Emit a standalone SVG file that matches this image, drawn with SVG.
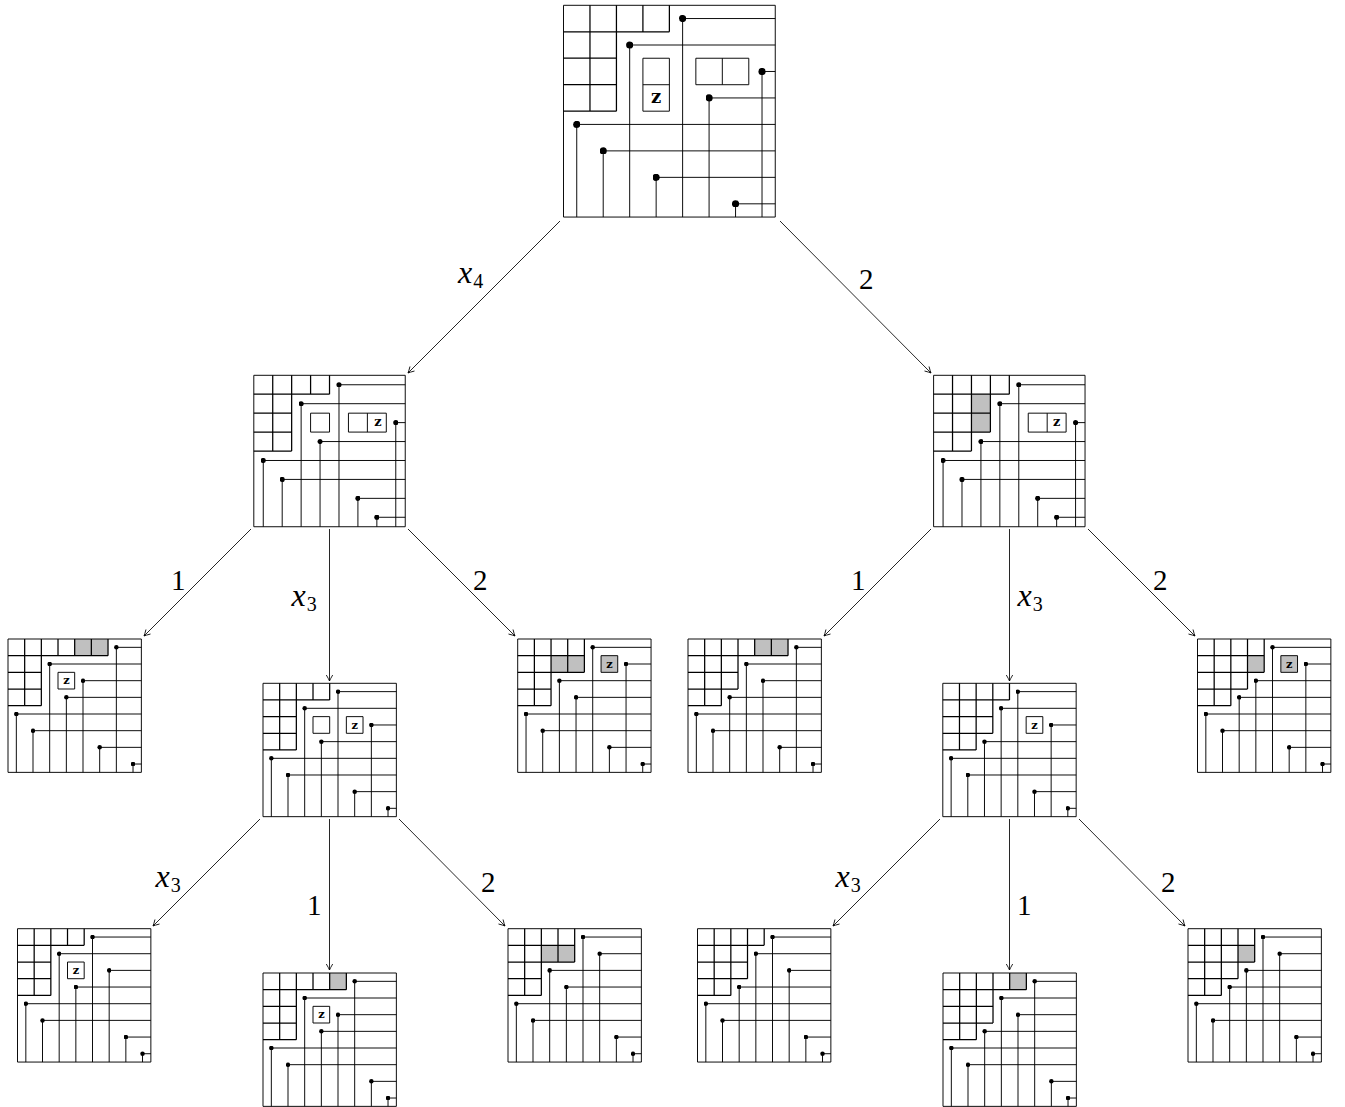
<svg xmlns="http://www.w3.org/2000/svg" xmlns:xlink="http://www.w3.org/1999/xlink" width="1345" height="1107" viewBox="0 0 1345 1107">
<style>
.n rect,.n path{fill:none;stroke:#000;stroke-width:.95;vector-effect:non-scaling-stroke}
defs path{fill:none;stroke:#000;stroke-width:1.25;vector-effect:non-scaling-stroke}
.n rect.g{fill:#c0c0c0;stroke:none}
.n rect.gb{fill:#c0c0c0}
.n path.h{marker-mid:url(#dot)}
.n text{font-family:"DejaVu Serif",serif;font-weight:700;font-size:.68px;text-anchor:middle}
#connectors path{fill:none;stroke:#000;stroke-width:.85;marker-end:url(#arr)}
.l{font-family:"Liberation Serif",serif;font-size:29px;fill:#000}
.i{font-style:italic;font-size:32px}
.s{font-style:normal;font-size:20px}
</style>
<defs>
<marker id="dot" markerUnits="userSpaceOnUse" markerWidth=".27" markerHeight=".27" viewBox="-1 -1 2 2"><circle r="1" fill="#000"/></marker>
<marker id="arr" markerUnits="userSpaceOnUse" markerWidth="10" markerHeight="10" refX="0" refY="0" viewBox="-8 -5 10 10" orient="auto"><path d="M-6 -3.2Q-2 -.8 0 0Q-2 .8 -6 3.2" style="fill:none;stroke:#000;stroke-width:.85"/></marker>
<path id="g4222" d="M0 1H4M0 2H2M0 3H2M0 4H2M1 0V4M2 0V4M3 0V1M4 0V1"/>
<path id="g5222" d="M0 1H5M0 2H2M0 3H2M0 4H2M1 0V4M2 0V4M3 0V1M4 0V1M5 0V1"/>
<path id="g6222" d="M0 1H6M0 2H2M0 3H2M0 4H2M1 0V4M2 0V4M3 0V1M4 0V1M5 0V1M6 0V1"/>
<path id="g4422" d="M0 1H4M0 2H4M0 3H2M0 4H2M1 0V4M2 0V4M3 0V2M4 0V2"/>
<path id="g4332" d="M0 1H4M0 2H3M0 3H3M0 4H2M1 0V4M2 0V4M3 0V3M4 0V1"/>
<path id="g5332" d="M0 1H5M0 2H3M0 3H3M0 4H2M1 0V4M2 0V4M3 0V3M4 0V1M5 0V1"/>
<path id="g6332" d="M0 1H6M0 2H3M0 3H3M0 4H2M1 0V4M2 0V4M3 0V3M4 0V1M5 0V1M6 0V1"/>
<path id="g4432" d="M0 1H4M0 2H4M0 3H3M0 4H2M1 0V4M2 0V4M3 0V3M4 0V2"/>
</defs>
<rect width="1345" height="1107" fill="#fff"/>
<g id="connectors">
<path d="M560 221L408 373"/>
<path d="M780 221L931 373"/>
<path d="M251 529L144 636"/>
<path d="M329.5 529V681"/>
<path d="M408 529L515 636"/>
<path d="M931 529L824 636"/>
<path d="M1009.5 529V681"/>
<path d="M1088 529L1195 636"/>
<path d="M260 819L153 926"/>
<path d="M329.5 819V970"/>
<path d="M399 819L505 926"/>
<path d="M940 819L833 926"/>
<path d="M1009.5 819V970"/>
<path d="M1079 819L1185 926"/>
<text class="l i" x="458" y="283">x<tspan class="s" dy="5" dx="1">4</tspan></text>
<text class="l" x="859" y="289">2</text>
<text class="l" x="171" y="590">1</text>
<text class="l i" x="291.5" y="606">x<tspan class="s" dy="5" dx="1">3</tspan></text>
<text class="l" x="473" y="590">2</text>
<text class="l" x="851" y="590">1</text>
<text class="l i" x="1017.5" y="606">x<tspan class="s" dy="5" dx="1">3</tspan></text>
<text class="l" x="1153" y="590">2</text>
<text class="l i" x="155.5" y="887">x<tspan class="s" dy="5" dx="1">3</tspan></text>
<text class="l" x="307" y="915">1</text>
<text class="l" x="481" y="892">2</text>
<text class="l i" x="835.5" y="887">x<tspan class="s" dy="5" dx="1">3</tspan></text>
<text class="l" x="1017" y="915">1</text>
<text class="l" x="1161" y="892">2</text>
</g>
<g id="root" class="n" transform="translate(563.5 5.3) scale(26.47)">
<use href="#g4222"/>
<rect x="3" y="2" width="1" height="2"/><path d="M3 3H4"/><text x="3.5" y="3.68">z</text>
<rect x="5" y="2" width="2" height="1"/><path d="M6 2V3"/>
<path class="h" d="M4.5 8V.5H8"/><path class="h" d="M2.5 8V1.5H8"/><path class="h" d="M7.5 8V2.5H8"/><path class="h" d="M5.5 8V3.5H8"/><path class="h" d="M.5 8V4.5H8"/><path class="h" d="M1.5 8V5.5H8"/><path class="h" d="M3.5 8V6.5H8"/><path class="h" d="M6.5 8V7.5H8"/>
<rect width="8" height="8"/>
</g>
<g id="left" class="n" transform="translate(253.8 375.3) scale(18.93)">
<use href="#g4222"/>
<rect x="3" y="2" width="1" height="1"/>
<rect x="5" y="2" width="2" height="1"/><path d="M6 2V3"/><text x="6.55" y="2.7">z</text>
<path class="h" d="M4.5 8V.5H8"/><path class="h" d="M2.5 8V1.5H8"/><path class="h" d="M7.5 8V2.5H8"/><path class="h" d="M3.5 8V3.5H8"/><path class="h" d="M.5 8V4.5H8"/><path class="h" d="M1.5 8V5.5H8"/><path class="h" d="M5.5 8V6.5H8"/><path class="h" d="M6.5 8V7.5H8"/>
<rect width="8" height="8"/>
</g>
<g id="right" class="n" transform="translate(933.6 375.3) scale(18.93)">
<rect class="g" x="2" y="1" width="1" height="2"/>
<use href="#g4332"/>
<rect x="5" y="2" width="2" height="1"/><path d="M6 2V3"/><text x="6.5" y="2.7">z</text>
<path class="h" d="M4.5 8V.5H8"/><path class="h" d="M3.5 8V1.5H8"/><path class="h" d="M7.5 8V2.5H8"/><path class="h" d="M2.5 8V3.5H8"/><path class="h" d="M.5 8V4.5H8"/><path class="h" d="M1.5 8V5.5H8"/><path class="h" d="M5.5 8V6.5H8"/><path class="h" d="M6.5 8V7.5H8"/>
<rect width="8" height="8"/>
</g>
<g id="a" class="n" transform="translate(8 639) scale(16.67)">
<rect class="g" x="4" width="2" height="1"/>
<use href="#g6222"/>
<rect x="3" y="2" width="1" height="1"/><text x="3.5" y="2.72">z</text>
<path class="h" d="M6.5 8V.5H8"/><path class="h" d="M2.5 8V1.5H8"/><path class="h" d="M4.5 8V2.5H8"/><path class="h" d="M3.5 8V3.5H8"/><path class="h" d="M.5 8V4.5H8"/><path class="h" d="M1.5 8V5.5H8"/><path class="h" d="M5.5 8V6.5H8"/><path class="h" d="M7.5 8V7.5H8"/>
<rect width="8" height="8"/>
</g>
<g id="b" class="n" transform="translate(263 683.3) scale(16.67)">
<use href="#g4222"/>
<rect x="3" y="2" width="1" height="1"/>
<rect x="5" y="2" width="1" height="1"/><text x="5.5" y="2.72">z</text>
<path class="h" d="M4.5 8V.5H8"/><path class="h" d="M2.5 8V1.5H8"/><path class="h" d="M6.5 8V2.5H8"/><path class="h" d="M3.5 8V3.5H8"/><path class="h" d="M.5 8V4.5H8"/><path class="h" d="M1.5 8V5.5H8"/><path class="h" d="M5.5 8V6.5H8"/><path class="h" d="M7.5 8V7.5H8"/>
<rect width="8" height="8"/>
</g>
<g id="c" class="n" transform="translate(517.7 639) scale(16.67)">
<rect class="g" x="2" y="1" width="2" height="1"/>
<use href="#g4422"/>
<rect class="gb" x="5" y="1" width="1" height="1"/><text x="5.5" y="1.72">z</text>
<path class="h" d="M4.5 8V.5H8"/><path class="h" d="M6.5 8V1.5H8"/><path class="h" d="M2.5 8V2.5H8"/><path class="h" d="M3.5 8V3.5H8"/><path class="h" d="M.5 8V4.5H8"/><path class="h" d="M1.5 8V5.5H8"/><path class="h" d="M5.5 8V6.5H8"/><path class="h" d="M7.5 8V7.5H8"/>
<rect width="8" height="8"/>
</g>
<g id="d" class="n" transform="translate(17.5 928.7) scale(16.67)">
<use href="#g4222"/>
<rect x="3" y="2" width="1" height="1"/><text x="3.5" y="2.72">z</text>
<path class="h" d="M4.5 8V.5H8"/><path class="h" d="M2.5 8V1.5H8"/><path class="h" d="M5.5 8V2.5H8"/><path class="h" d="M3.5 8V3.5H8"/><path class="h" d="M.5 8V4.5H8"/><path class="h" d="M1.5 8V5.5H8"/><path class="h" d="M6.5 8V6.5H8"/><path class="h" d="M7.5 8V7.5H8"/>
<rect width="8" height="8"/>
</g>
<g id="e" class="n" transform="translate(263 973) scale(16.67)">
<rect class="g" x="4" width="1" height="1"/>
<use href="#g5222"/>
<rect x="3" y="2" width="1" height="1"/><text x="3.5" y="2.72">z</text>
<path class="h" d="M5.5 8V.5H8"/><path class="h" d="M2.5 8V1.5H8"/><path class="h" d="M4.5 8V2.5H8"/><path class="h" d="M3.5 8V3.5H8"/><path class="h" d="M.5 8V4.5H8"/><path class="h" d="M1.5 8V5.5H8"/><path class="h" d="M6.5 8V6.5H8"/><path class="h" d="M7.5 8V7.5H8"/>
<rect width="8" height="8"/>
</g>
<g id="f" class="n" transform="translate(508 928.7) scale(16.67)">
<rect class="g" x="2" y="1" width="2" height="1"/>
<use href="#g4422"/>
<path class="h" d="M4.5 8V.5H8"/><path class="h" d="M5.5 8V1.5H8"/><path class="h" d="M2.5 8V2.5H8"/><path class="h" d="M3.5 8V3.5H8"/><path class="h" d="M.5 8V4.5H8"/><path class="h" d="M1.5 8V5.5H8"/><path class="h" d="M6.5 8V6.5H8"/><path class="h" d="M7.5 8V7.5H8"/>
<rect width="8" height="8"/>
</g>
<g id="g" class="n" transform="translate(688 639) scale(16.67)">
<rect class="g" x="4" width="2" height="1"/>
<use href="#g6332"/>
<path class="h" d="M6.5 8V.5H8"/><path class="h" d="M3.5 8V1.5H8"/><path class="h" d="M4.5 8V2.5H8"/><path class="h" d="M2.5 8V3.5H8"/><path class="h" d="M.5 8V4.5H8"/><path class="h" d="M1.5 8V5.5H8"/><path class="h" d="M5.5 8V6.5H8"/><path class="h" d="M7.5 8V7.5H8"/>
<rect width="8" height="8"/>
</g>
<g id="h" class="n" transform="translate(1197.5 639) scale(16.67)">
<rect class="g" x="3" y="1" width="1" height="1"/>
<use href="#g4432"/>
<rect class="gb" x="5" y="1" width="1" height="1"/><text x="5.5" y="1.72">z</text>
<path class="h" d="M4.5 8V.5H8"/><path class="h" d="M6.5 8V1.5H8"/><path class="h" d="M3.5 8V2.5H8"/><path class="h" d="M2.5 8V3.5H8"/><path class="h" d="M.5 8V4.5H8"/><path class="h" d="M1.5 8V5.5H8"/><path class="h" d="M5.5 8V6.5H8"/><path class="h" d="M7.5 8V7.5H8"/>
<rect width="8" height="8"/>
</g>
<g id="i" class="n" transform="translate(942.8 683.3) scale(16.67)">
<use href="#g4332"/>
<rect x="5" y="2" width="1" height="1"/><text x="5.5" y="2.72">z</text>
<path class="h" d="M4.5 8V.5H8"/><path class="h" d="M3.5 8V1.5H8"/><path class="h" d="M6.5 8V2.5H8"/><path class="h" d="M2.5 8V3.5H8"/><path class="h" d="M.5 8V4.5H8"/><path class="h" d="M1.5 8V5.5H8"/><path class="h" d="M5.5 8V6.5H8"/><path class="h" d="M7.5 8V7.5H8"/>
<rect width="8" height="8"/>
</g>
<g id="j" class="n" transform="translate(697.5 928.7) scale(16.67)">
<use href="#g4332"/>
<path class="h" d="M4.5 8V.5H8"/><path class="h" d="M3.5 8V1.5H8"/><path class="h" d="M5.5 8V2.5H8"/><path class="h" d="M2.5 8V3.5H8"/><path class="h" d="M.5 8V4.5H8"/><path class="h" d="M1.5 8V5.5H8"/><path class="h" d="M6.5 8V6.5H8"/><path class="h" d="M7.5 8V7.5H8"/>
<rect width="8" height="8"/>
</g>
<g id="k" class="n" transform="translate(943 973) scale(16.67)">
<rect class="g" x="4" width="1" height="1"/>
<use href="#g5332"/>
<path class="h" d="M5.5 8V.5H8"/><path class="h" d="M3.5 8V1.5H8"/><path class="h" d="M4.5 8V2.5H8"/><path class="h" d="M2.5 8V3.5H8"/><path class="h" d="M.5 8V4.5H8"/><path class="h" d="M1.5 8V5.5H8"/><path class="h" d="M6.5 8V6.5H8"/><path class="h" d="M7.5 8V7.5H8"/>
<rect width="8" height="8"/>
</g>
<g id="l" class="n" transform="translate(1188 928.7) scale(16.67)">
<rect class="g" x="3" y="1" width="1" height="1"/>
<use href="#g4432"/>
<path class="h" d="M4.5 8V.5H8"/><path class="h" d="M5.5 8V1.5H8"/><path class="h" d="M3.5 8V2.5H8"/><path class="h" d="M2.5 8V3.5H8"/><path class="h" d="M.5 8V4.5H8"/><path class="h" d="M1.5 8V5.5H8"/><path class="h" d="M6.5 8V6.5H8"/><path class="h" d="M7.5 8V7.5H8"/>
<rect width="8" height="8"/>
</g>
</svg>
